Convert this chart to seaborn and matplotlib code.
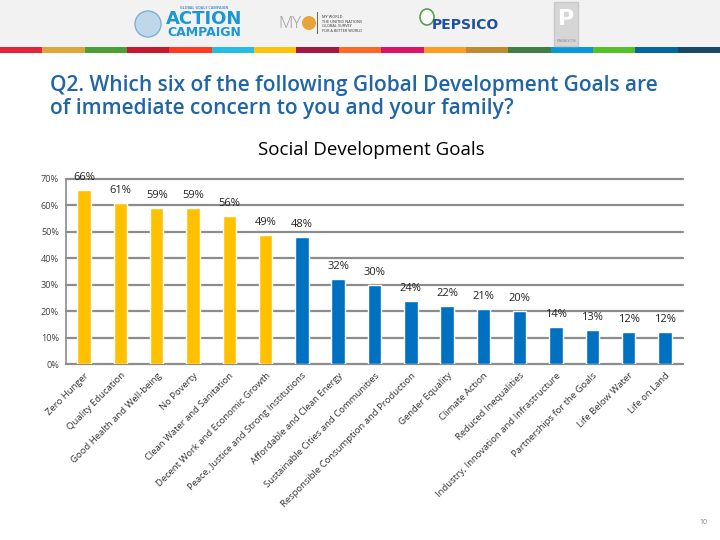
import matplotlib
matplotlib.use("Agg")
import matplotlib.pyplot as plt
import matplotlib.patches as mpatches
from matplotlib.ticker import FuncFormatter, FixedLocator
import seaborn as sns
import pandas as pd

# ---------------- data ----------------
goals = [
    "Zero Hunger", "Quality Education", "Good Health and Well-being", "No Poverty",
    "Clean Water and Sanitation", "Decent Work and Economic Growth",
    "Peace, Justice and Strong Institutions", "Affordable and Clean Energy",
    "Sustainable Cities and Communities", "Responsible Consumption and Production",
    "Gender Equality", "Climate Action", "Reduced Inequalities",
    "Industry, Innovation and Infrastructure", "Partnerships for the Goals",
    "Life Below Water", "Life on Land",
]
values = [66, 61, 59, 59, 56, 49, 48, 32, 30, 24, 22, 21, 20, 14, 13, 12, 12]
groups = ["social"] * 6 + ["other"] * 11
group_colors = {"social": "#FFC000", "other": "#0070C0"}
yticks = [0, 10, 20, 30, 40, 50, 60, 70]

title_text = ("Q2. Which six of the following Global Development Goals are\n"
              "of immediate concern to you and your family?")
chart_title = "Social Development Goals"
page_number = "10"

sdg_colors = ["#E5243B", "#DDA63A", "#4C9F38", "#C5192D", "#FF3A21", "#26BDE2",
              "#FCC30B", "#A21942", "#FD6925", "#DD1367", "#FD9D24", "#BF8B2E",
              "#3F7E44", "#0A97D9", "#56C02B", "#00689D", "#19486A"]

df = pd.DataFrame({"goal": goals, "value": values, "group": groups})

# ---------------- figure ----------------
sns.set_style("white")
plt.rcParams["font.family"] = ["Open Sans", "DejaVu Sans"]

W, H = 720, 540
fig = plt.figure(figsize=(W / 100, H / 100), dpi=100)

def px(x, y):
    return x / W, 1 - y / H

# header background
fig.patches.append(mpatches.Rectangle((0, 1 - 47 / H), 1, 47 / H, transform=fig.transFigure,
                                      facecolor="#F2F2F2", edgecolor="none", zorder=0))
# SDG stripe
seg = 1 / len(sdg_colors)
for i, c in enumerate(sdg_colors):
    fig.patches.append(mpatches.Rectangle((i * seg, 1 - 53 / H), seg, 6 / H,
                                          transform=fig.transFigure, facecolor=c,
                                          edgecolor="none", zorder=1))

# logos (approximate, as text/shapes)
cx, cy = px(148, 24)
fig.patches.append(mpatches.Ellipse((cx, cy), 26 / W, 26 / H, transform=fig.transFigure,
                                    facecolor="#BFD7EA", edgecolor="#7FAFD3", lw=1))
fig.text(*px(204, 8), "GLOBAL GOALS CAMPAIGN", fontsize=2.6, color="#4A90C8",
         ha="center", va="center", fontweight="bold")
fig.text(*px(204, 19), "ACTION", fontsize=13, color="#1C97D4", ha="center",
         va="center", fontweight="bold", family=["DejaVu Sans"])
fig.text(*px(204, 33), "CAMPAIGN", fontsize=9, color="#1C97D4", ha="center",
         va="center", fontweight="bold", family=["DejaVu Sans"])
fig.text(*px(290, 24), "MY", fontsize=12, color="#999999", ha="center", va="center",
         fontweight="light")
mx, my = px(309, 23)
fig.patches.append(mpatches.Ellipse((mx, my), 14 / W, 14 / H, transform=fig.transFigure,
                                    facecolor="#E8A33B", edgecolor="none"))
fig.patches.append(mpatches.Rectangle(px(317, 34), 0.6 / W, 22 / H, transform=fig.transFigure,
                                      facecolor="#666666", edgecolor="none"))
fig.text(*px(322, 24), "MY WORLD.\nTHE UNITED NATIONS\nGLOBAL SURVEY\nFOR A BETTER WORLD",
         fontsize=2.8, color="#333333", ha="left", va="center", linespacing=1.2)
gx, gy = px(427, 17)
fig.patches.append(mpatches.Ellipse((gx, gy), 14 / W, 16 / H, transform=fig.transFigure,
                                    facecolor="white", edgecolor="#5AA04A", lw=1.2))
fig.text(*px(465, 25), "PEPSICO", fontsize=10, color="#1E4FA0", ha="center",
         va="center", fontweight="bold", family=["DejaVu Sans"])
fig.patches.append(mpatches.Rectangle(px(554, 46), 24 / W, 44 / H, transform=fig.transFigure,
                                      facecolor="#D6D6D6", edgecolor="#C8C8C8"))
fig.text(*px(566, 19), "P", fontsize=16, color="white", ha="center", va="center",
         fontweight="bold", family=["DejaVu Sans"])
fig.text(*px(566, 41), "PARAGON", fontsize=3, color="#888888", ha="center", va="center")

# main title
fig.text(*px(50, 97), title_text, fontsize=15, color="#1F65A8", ha="left", va="center",
         linespacing=1.12, fontweight="semibold")
# chart title
fig.text(*px(371, 150), chart_title, fontsize=13.5, color="black", ha="center",
         va="center")
# page number
fig.text(*px(703, 522), page_number, fontsize=5, color="#7F7F7F", ha="center", va="center")

# ---------------- axes ----------------
left, right, top, bottom = 66, 683, 179, 364
ax = fig.add_axes([left / W, 1 - bottom / H, (right - left) / W, (bottom - top) / H])

sns.barplot(data=df, x="goal", y="value", hue="group", palette=group_colors,
            dodge=False, legend=False, width=0.37, ax=ax, saturation=1, zorder=3)

ax.set_ylim(0, 70)
ax.set_xlim(-0.5, len(goals) - 0.5)
ax.yaxis.set_major_locator(FixedLocator(yticks))
ax.yaxis.set_major_formatter(FuncFormatter(lambda v, p: f"{int(v)}%"))
ax.grid(axis="y", color="#8C8C8C", lw=1.6, zorder=0, clip_on=False)
ax.set_axisbelow(True)
ax.set_xlabel("")
ax.set_ylabel("")
for s in ["top", "right"]:
    ax.spines[s].set_visible(False)
ax.spines["left"].set_color("#8C8C8C")
ax.spines["bottom"].set_color("#8C8C8C")
ax.spines["left"].set_linewidth(1.2)
ax.spines["bottom"].set_linewidth(1.2)
ax.tick_params(axis="y", labelsize=6.6, colors="#404040", length=3, width=1,
               color="#8C8C8C", pad=2)

ax.set_xticks(range(len(goals)))
ax.set_xticklabels(goals, rotation=45, ha="right", rotation_mode="anchor",
                   fontsize=6.8, color="#333333")
ax.tick_params(axis="x", length=0, pad=5)
ax.set_xticks([i + 0.5 for i in range(-1, len(goals))], minor=True)
ax.tick_params(axis="x", which="minor", length=4, width=1, color="#8C8C8C")

for i, v in enumerate(values):
    ax.annotate(f"{v}%", (i, v), xytext=(0, 5), textcoords="offset points",
                ha="center", va="bottom", fontsize=8, color="#222222")

fig.savefig("out.png", dpi=100)
